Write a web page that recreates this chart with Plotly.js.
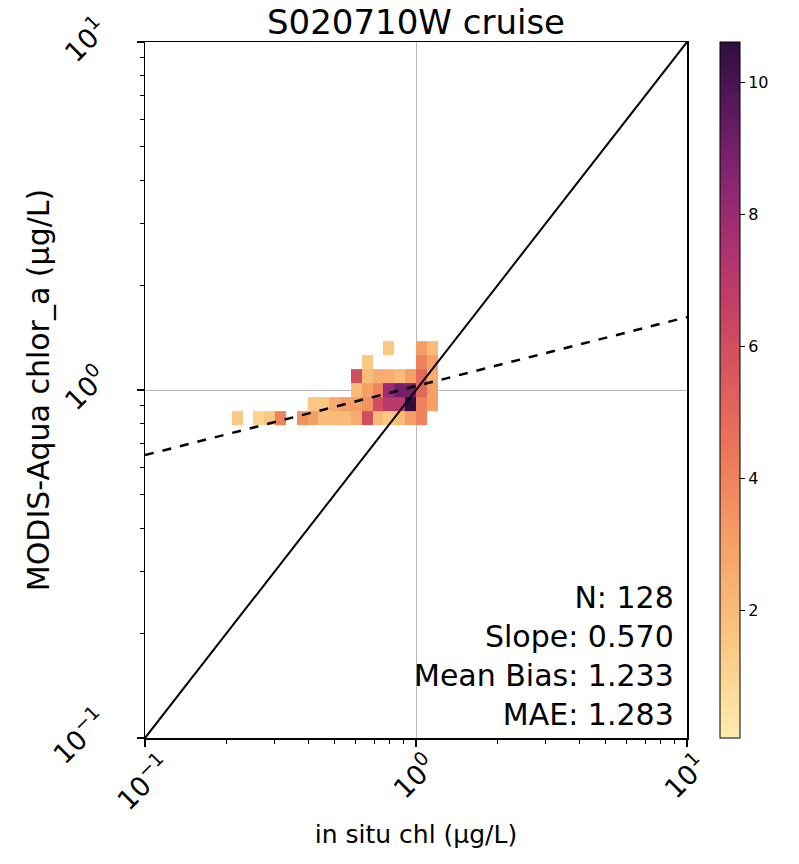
<!DOCTYPE html>
<html>
<head>
<meta charset="utf-8">
<script src="https://cdn.plot.ly/plotly-3.0.1.min.js"></script>
<style>html,body{margin:0;padding:0;background:#fff;}#chart{width:799px;height:864px;}</style>
</head>
<body>
<div id="chart"></div>
<script>
// ---- data (2D histogram cells) ----
// bin centre of in situ chl (µg/L)
const cellInSitu = [
  0.794, 1.047, 1.148,
  0.661, 1.047, 1.148,
  0.603, 0.661, 0.724, 0.794, 0.871, 0.955, 1.047, 1.148,
  0.603, 0.661, 0.724, 0.794, 0.871, 0.955, 1.047, 1.148,
  0.417, 0.457, 0.501, 0.550, 0.603, 0.661, 0.724, 0.794, 0.871, 0.955, 1.047, 1.148,
  0.219, 0.263, 0.288, 0.316, 0.380, 0.417, 0.457, 0.501, 0.550, 0.603, 0.661, 0.724, 0.794, 0.871, 0.955, 1.047
];
// bin centre of MODIS-Aqua chlor_a (µg/L)
const cellModis = [
  1.318, 1.318, 1.318,
  1.203, 1.203, 1.203,
  1.097, 1.097, 1.097, 1.097, 1.097, 1.097, 1.097, 1.097,
  1.000, 1.000, 1.000, 1.000, 1.000, 1.000, 1.000, 1.000,
  0.912, 0.912, 0.912, 0.912, 0.912, 0.912, 0.912, 0.912, 0.912, 0.912, 0.912, 0.912,
  0.832, 0.832, 0.832, 0.832, 0.832, 0.832, 0.832, 0.832, 0.832, 0.832, 0.832, 0.832, 0.832, 0.832, 0.832, 0.832
];
// counts in each cell
const cellCount = [
  1.5, 3, 2,
  1.5, 4, 3,
  6, 2, 2.5, 2.5, 2, 3, 5, 2.5,
  2, 3, 4, 8, 9, 9, 5, 3,
  1.5, 1.5, 2.5, 3, 3, 3.5, 6, 7, 7, 10.6, 4, 3,
  1.5, 1, 1.5, 4, 3.5, 3, 2, 2, 2, 2.5, 6, 2, 1.5, 2, 3, 4
];
// reference lines
const oneToOneX = [0.1, 10];
const oneToOneY = [0.1, 10];
const fitX = [0.1, 10];
const fitY = [0.65, 1.62];
// stats text
const statLabels = ["N", "Slope", "Mean Bias", "MAE"];
const statValues = ["128", "0.570", "1.233", "1.283"];
// tick labels
const axisTickVals = [0.1, 1, 10];
const axisTickText = ["10<sup>\u22121</sup>", "10<sup>0</sup>", "10<sup>1</sup>"];
const cbTickVals = [2, 4, 6, 8, 10];

// ---- histogram grid (log bins) ----
const binW = 0.04;
const xStart = -1.0;       // log10 of first x edge
const yStart = 0.0201;     // log10 of a y edge
const nx = 50, iy0 = -30, iy1 = 26;
const xEdges = [];
for (let k = 0; k <= nx; k++) xEdges.push(Math.pow(10, xStart + binW * k));
const yEdges = [];
for (let m = iy0; m <= iy1; m++) yEdges.push(Math.pow(10, yStart + binW * m));
const z = [];
for (let m = iy0; m < iy1; m++) { const row = []; for (let k = 0; k < nx; k++) row.push(null); z.push(row); }
for (let c = 0; c < cellCount.length; c++) {
  const k = Math.floor((Math.log10(cellInSitu[c]) - xStart) / binW);
  const m = Math.floor((Math.log10(cellModis[c]) - yStart) / binW);
  z[m - iy0][k] = cellCount[c];
}

// cmocean "matter"-like scale (light yellow -> orange -> crimson -> dark purple)
const matter = [
  [0.0, '#fdedb0'], [0.1, '#fbd28c'], [0.2, '#f8b674'], [0.3, '#f49a63'],
  [0.4, '#ec7b59'], [0.5, '#de5e5c'], [0.6, '#c94462'], [0.7, '#ad3270'],
  [0.8, '#892571'], [0.9, '#5c1a5e'], [1.0, '#2f0f3e']
];

const FONT = 'DejaVu Sans, sans-serif';
const minorVals = [];
[0.1, 1].forEach(d => { for (let j = 2; j <= 9; j++) minorVals.push(d * j); });

const traces = [
  {
    type: 'heatmap', x: xEdges, y: yEdges, z: z,
    colorscale: matter, zmin: 0.06, zmax: 10.62, hoverinfo: 'skip',
    colorbar: {
      x: 1.0609, xanchor: 'left', xpad: 0, y: 0.5, yanchor: 'middle', ypad: 0,
      len: 1, lenmode: 'fraction', thickness: 20, thicknessmode: 'pixels',
      outlinewidth: 1, outlinecolor: '#000',
      tickvals: cbTickVals, ticks: 'outside', ticklen: 5, tickwidth: 1, tickcolor: '#000',
      tickfont: { family: FONT, size: 16, color: '#000' }
    }
  },
  { type: 'scatter', mode: 'lines', x: oneToOneX, y: oneToOneY, line: { color: '#000', width: 2 }, hoverinfo: 'skip', showlegend: false },
  { type: 'scatter', mode: 'lines', x: fitX, y: fitY, line: { color: '#000', width: 2.5, dash: 'dash' }, hoverinfo: 'skip', showlegend: false }
];

const axisCommon = {
  type: 'log', range: [-1, 1],
  showline: true, mirror: true, linecolor: '#000', linewidth: 1.5,
  ticks: 'outside', ticklen: 7, tickwidth: 1.5, tickcolor: '#000',
  tickvals: axisTickVals, showticklabels: false,
  showgrid: true, gridcolor: '#b8b8b8', gridwidth: 1, zeroline: false,
  minor: { ticks: 'outside', ticklen: 4, tickwidth: 1, tickcolor: '#000', tickvals: minorVals, showgrid: false }
};

const statText = statLabels.map((l, i) => l + ': ' + statValues[i]).join('<br>');

const tickFont = { family: FONT, size: 27, color: '#000' };
const annotations = [];
axisTickVals.forEach((v, i) => {
  annotations.push({ xref: 'x', yref: 'paper', x: Math.log10(v), y: 0, xanchor: 'center', yanchor: 'top',
    yshift: -6, xshift: -3, text: axisTickText[i], textangle: -45, showarrow: false, font: tickFont });
  annotations.push({ xref: 'paper', yref: 'y', x: 0, y: Math.log10(v), xanchor: 'right', yanchor: 'middle',
    xshift: -30, yshift: 3, text: axisTickText[i], textangle: -45, showarrow: false, font: tickFont });
});
annotations.push({
  xref: 'paper', yref: 'paper', x: 0.979, y: 0.006, xanchor: 'right', yanchor: 'bottom',
  text: statText, align: 'right', showarrow: false,
  font: { family: FONT, size: 30, color: '#000' }
});

const layout = {
  width: 799, height: 864,
  margin: { l: 145, r: 112, t: 42, b: 126 },
  paper_bgcolor: '#fff', plot_bgcolor: '#fff',
  font: { family: FONT, color: '#000' },
  showlegend: false,
  title: { text: 'S020710W cruise', font: { family: FONT, size: 34, color: '#000' }, x: 0.5, xref: 'paper', y: 0.974, yref: 'container', yanchor: 'middle' },
  xaxis: Object.assign({}, axisCommon, { title: { text: 'in situ chl (\u00b5g/L)', font: { family: FONT, size: 25, color: '#000' }, standoff: 80 } }),
  yaxis: Object.assign({}, axisCommon, { title: { text: 'MODIS-Aqua chlor_a (\u00b5g/L)', font: { family: FONT, size: 30, color: '#000' }, standoff: 78 } }),
  annotations: annotations
};

Plotly.newPlot('chart', traces, layout, { displayModeBar: false, staticPlot: true });
</script>
</body>
</html>
